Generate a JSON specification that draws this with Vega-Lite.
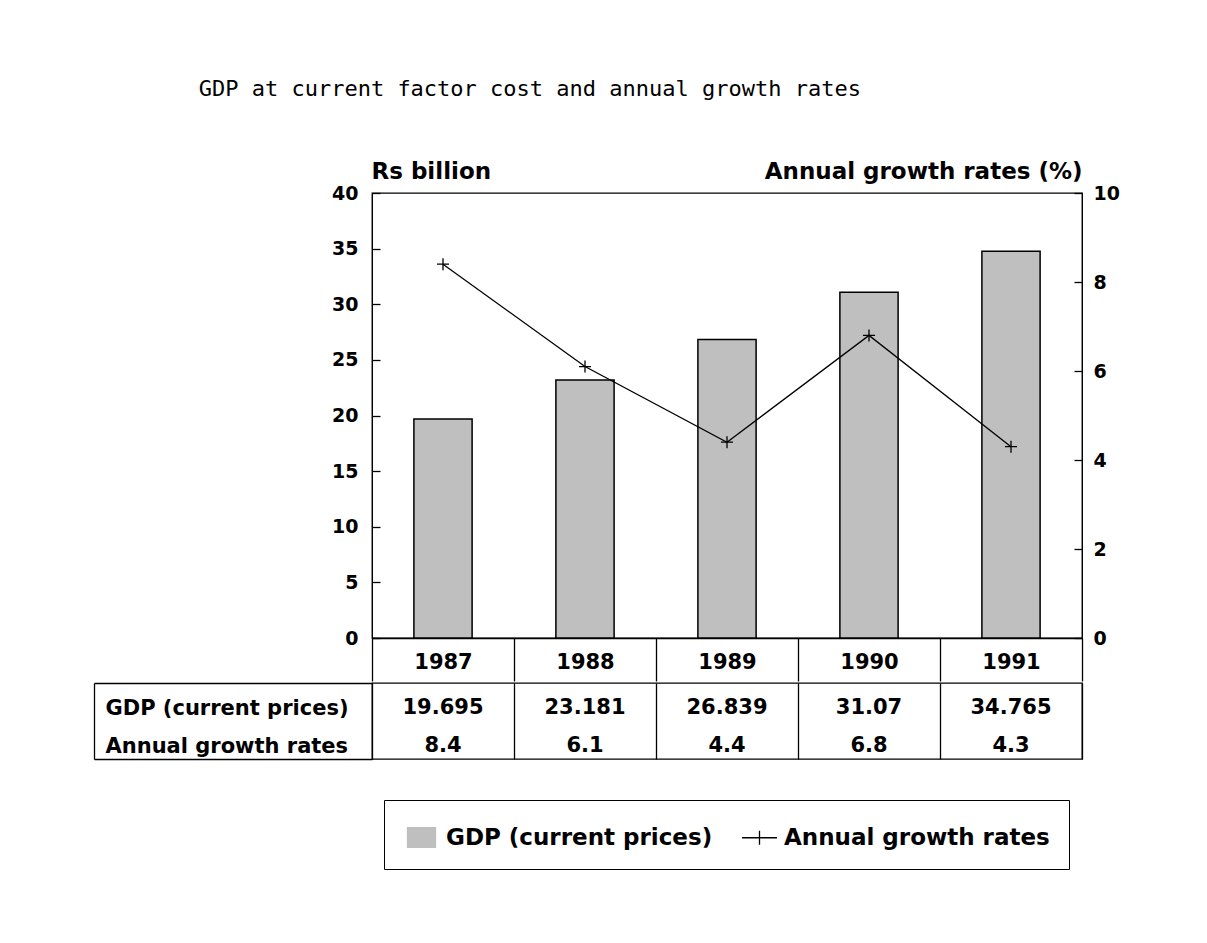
{
  "$schema": "https://vega.github.io/schema/vega-lite/v6.json",
  "padding": {"left": 92, "top": 78, "right": 10, "bottom": 10},
  "background": "white",
  "title": {
    "text": "GDP at current factor cost and annual growth rates",
    "font": "DejaVu Sans Mono",
    "fontSize": 22,
    "fontWeight": "normal",
    "color": "black",
    "anchor": "start",
    "dx": 106,
    "offset": 58
  },
  "datasets": {
    "gdp": [
      {"year": "1987", "GDP (current prices)": 19.695, "Annual growth rates": 8.4},
      {"year": "1988", "GDP (current prices)": 23.181, "Annual growth rates": 6.1},
      {"year": "1989", "GDP (current prices)": 26.839, "Annual growth rates": 4.4},
      {"year": "1990", "GDP (current prices)": 31.07, "Annual growth rates": 6.8},
      {"year": "1991", "GDP (current prices)": 34.765, "Annual growth rates": 4.3}
    ]
  },
  "data": {"name": "gdp"},
  "spacing": -14,
  "vconcat": [
    {
      "width": 710,
      "height": 445,
      "encoding": {
        "x": {
          "field": "year",
          "type": "ordinal",
          "scale": {"paddingInner": 0, "paddingOuter": 0},
          "axis": {
            "title": null,
            "orient": "bottom",
            "tickBand": "extent",
            "tickSize": 43,
            "tickWidth": 1.3,
            "domainWidth": 1.3,
            "labelAngle": 0,
            "labelBaseline": "middle",
            "labelPadding": -19,
            "labelFontSize": 21
          }
        }
      },
      "layer": [
        {
          "mark": {"type": "bar", "stroke": "black", "strokeWidth": 1.5, "width": {"band": 0.41}},
          "encoding": {
            "y": {
              "field": "GDP (current prices)",
              "type": "quantitative",
              "scale": {"domain": [0, 40]},
              "axis": {
                "orient": "left",
                "values": [0, 5, 10, 15, 20, 25, 30, 35, 40],
                "tickSize": -8,
                "tickWidth": 1.3,
                "labelPadding": 22,
                "labelFontSize": 19,
                "grid": false,
                "title": "Rs billion",
                "titleAngle": 0,
                "titleAlign": "left",
                "titleBaseline": "alphabetic",
                "titleX": -1,
                "titleY": -15,
                "titleFontSize": 23
              }
            },
            "color": {
              "datum": "GDP (current prices)",
              "type": "nominal",
              "scale": {
                "domain": ["GDP (current prices)", "Annual growth rates"],
                "range": ["#bfbfbf", "black"]
              },
              "legend": {
                "title": null,
                "orient": "none",
                "legendX": 12,
                "legendY": 607,
                "direction": "horizontal",
                "strokeColor": "black",
                "padding": 19,
                "columnPadding": 26,
                "labelFont": "DejaVu Sans",
                "labelFontWeight": "bold",
                "labelFontSize": 23,
                "labelColor": "black",
                "labelLimit": 0,
                "labelOffset": 6,
                "symbolStrokeWidth": 1.3,
                "symbolStrokeColor": "black",
                "symbolSize": 784,
                "encode": {
                  "symbols": {
                    "update": {
                      "shape": {"signal": "datum.value === 'GDP (current prices)' ? 'M-1,-0.7H1V0.7H-1Z' : 'M-1,0H1M0,-0.4V0.4'"},
                      "size": {"signal": "datum.value === 'GDP (current prices)' ? 784 : 1225"},
                      "fill": {"signal": "datum.value === 'GDP (current prices)' ? '#bfbfbf' : 'transparent'"},
                      "stroke": {"value": "black"},
                      "strokeWidth": {"value": 1.3}
                    }
                  }
                }
              }
            }
          }
        },
        {
          "mark": {
            "type": "line",
            "strokeWidth": 1.3,
            "point": {"shape": "M-1,0H1M0,-1V1", "filled": false, "size": 144, "strokeWidth": 1.3}
          },
          "encoding": {
            "y": {
              "field": "Annual growth rates",
              "type": "quantitative",
              "scale": {"domain": [0, 10]},
              "axis": {
                "orient": "right",
                "values": [0, 2, 4, 6, 8, 10],
                "tickSize": -8,
                "tickWidth": 1.3,
                "labelPadding": 19,
                "labelFontSize": 19,
                "grid": false,
                "title": "Annual growth rates (%)",
                "titleAngle": 0,
                "titleAlign": "right",
                "titleBaseline": "alphabetic",
                "titleX": 0,
                "titleY": -15,
                "titleFontSize": 23
              }
            },
            "color": {"datum": "Annual growth rates", "type": "nominal"}
          }
        }
      ],
      "resolve": {"scale": {"y": "independent"}}
    },
    {
      "width": 710,
      "height": 76,
      "transform": [
        {"fold": ["GDP (current prices)", "Annual growth rates"], "as": ["series", "value"]}
      ],
      "mark": {"type": "text", "font": "DejaVu Sans", "fontWeight": "bold", "fontSize": 21, "baseline": "middle", "color": "black", "dy": 6},
      "encoding": {
        "x": {
          "field": "year",
          "type": "ordinal",
          "scale": {"paddingInner": 0, "paddingOuter": 0},
          "axis": {
            "title": null,
            "labels": false,
            "ticks": false,
            "domain": false,
            "grid": true,
            "gridColor": "black",
            "gridWidth": 1.3,
            "gridOpacity": 1,
            "tickBand": "extent"
          }
        },
        "y": {
          "field": "series",
          "type": "nominal",
          "sort": ["GDP (current prices)", "Annual growth rates"],
          "scale": {"paddingInner": 0, "paddingOuter": 0},
          "axis": {
            "title": null,
            "orient": "left",
            "offset": 278,
            "tickSize": -278,
            "tickBand": "extent",
            "tickWidth": 1.3,
            "tickOpacity": {"condition": {"test": "datum.value === 'GDP (current prices)'", "value": 0}, "value": 1},
            "domain": true,
            "domainWidth": 1.3,
            "labelAlign": "left",
            "labelBaseline": "middle",
            "labelPadding": 267,
            "labelOffset": 6,
            "labelFontSize": 21,
            "labelLimit": 0
          }
        },
        "text": {"field": "value", "type": "nominal"}
      }
    }
  ],
  "config": {
    "view": {"stroke": "black", "strokeWidth": 1.3},
    "axis": {
      "labelColor": "black",
      "domainColor": "black",
      "tickColor": "black",
      "titleColor": "black",
      "labelFont": "DejaVu Sans",
      "labelFontWeight": "bold",
      "titleFont": "DejaVu Sans",
      "titleFontWeight": "bold",
      "gridColor": "black"
    },
    "text": {"font": "DejaVu Sans"}
  }
}
